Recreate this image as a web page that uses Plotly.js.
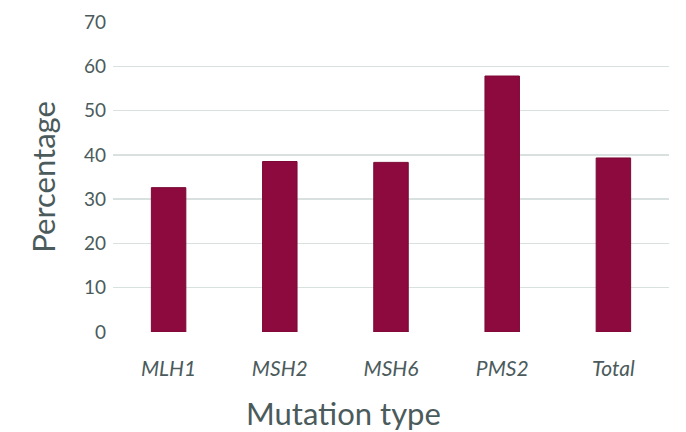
<!DOCTYPE html>
<html>
<head>
<meta charset="utf-8">
<script src="https://cdn.plot.ly/plotly-3.0.1.min.js"></script>
<style>html,body{margin:0;padding:0;background:#fff;}#chart{width:686px;height:432px;}</style>
</head>
<body>
<div id="chart"></div>
<script>
const categories = ["MLH1", "MSH2", "MSH6", "PMS2", "Total"];
const tickLabels = ["<i>MLH1</i>", "<i>MSH2</i>", "<i>MSH6</i>", "<i>PMS2</i>", "<i>Total</i>"];
const percentages = [32.6, 38.5, 38.3, 57.8, 39.3];
const yTicks = [0, 10, 20, 30, 40, 50, 60, 70];

const textColor = "#4b5b5c";
const fontFamily = "Lato, 'Open Sans', sans-serif";

Plotly.newPlot("chart", [{
  type: "bar",
  x: categories,
  y: percentages,
  width: 0.31,
  marker: {color: "#8c0a3d", line: {color: "#7a0a35", width: 1}},
  hoverinfo: "none"
}], {
  width: 686, height: 432,
  margin: {l: 113, r: 17, t: 22, b: 100},
  paper_bgcolor: "#fff", plot_bgcolor: "#fff",
  showlegend: false,
  font: {family: fontFamily, color: textColor},
  xaxis: {
    tickmode: "array", tickvals: categories, ticktext: tickLabels,
    tickfont: {size: 21, color: textColor, family: fontFamily},
    showgrid: false, showline: false, zeroline: false, ticks: "",
    ticklabelstandoff: 22
  },
  yaxis: {
    range: [0, 70], tickmode: "array", tickvals: yTicks,
    tickfont: {size: 19, color: textColor, family: fontFamily},
    showgrid: true, gridcolor: "#d9e1e0", gridwidth: 1.5,
    zeroline: false, showline: false, ticks: "",
    ticklabelstandoff: 6,
    title: {text: "Percentage", font: {size: 31, color: textColor, family: fontFamily}, standoff: 19}
  },
  annotations: [{
    text: "Mutation type", xref: "paper", yref: "paper",
    x: (343 - 113) / 556, y: -0.195, xanchor: "center", yanchor: "top",
    showarrow: false,
    font: {size: 31, color: textColor, family: fontFamily}
  }]
}, {staticPlot: true});
</script>
</body>
</html>
